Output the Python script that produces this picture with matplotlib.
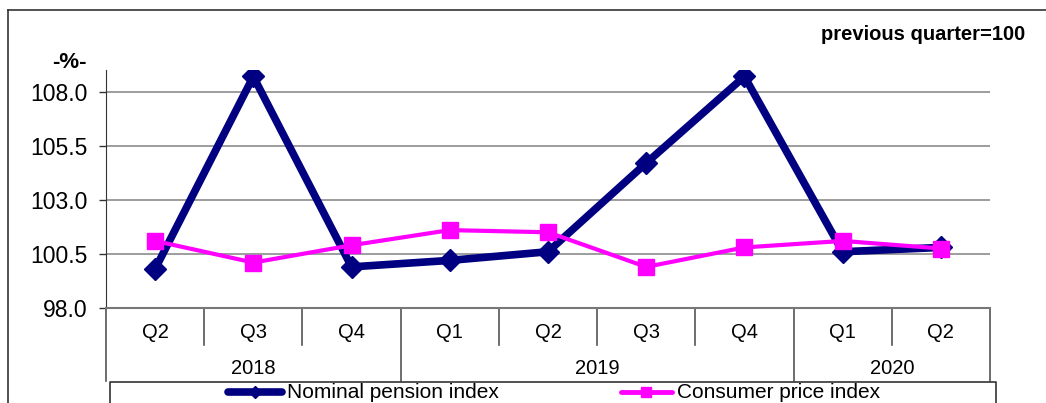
import matplotlib.pyplot as plt
from matplotlib.lines import Line2D
from matplotlib.transforms import blended_transform_factory

plt.rcParams['font.family'] = ['Liberation Sans', 'DejaVu Sans']

quarters = ["Q2", "Q3", "Q4", "Q1", "Q2", "Q3", "Q4", "Q1", "Q2"]
years = ["2018", "2019", "2020"]
year_spans = [(0, 3), (3, 7), (7, 9)]   # [start, end) index of quarters per year

pension = [99.8, 108.7, 99.9, 100.2, 100.6, 104.7, 108.7, 100.6, 100.8]
cpi = [101.1, 100.1, 100.9, 101.6, 101.5, 99.9, 100.8, 101.1, 100.75]
yticks = [98.0, 100.5, 103.0, 105.5, 108.0]

W, H = 1046, 403
navy = "#000080"
magenta = "#FF00FF"


def fx(x):
    return x / W


def fy(y):
    return 1 - y / H


fig = plt.figure(figsize=(W / 100, H / 100), dpi=100)
ax = fig.add_axes([fx(106), fy(308), fx(990) - fx(106), fy(70) - fy(308)])

x = list(range(len(quarters)))
ax.plot(x, pension, color=navy, lw=5.5, marker="D", ms=11, mec=navy, zorder=3)
ax.plot(x, cpi, color=magenta, lw=3, marker="s", ms=12, mec=magenta, zorder=4)

ax.set_xlim(-0.5, len(quarters) - 0.5)
ax.set_ylim(98.0, 109.0)
ax.set_yticks(yticks)
ax.set_yticklabels([f"{v:.1f}" for v in yticks])
ax.tick_params(axis="y", length=5, width=1, color="#333333", pad=8.5,
               labelsize=16.5)
ax.set_xticks([])
ax.grid(axis="y", color="#8c8c8c", lw=1.2)
ax.set_axisbelow(True)
for s in ["top", "right"]:
    ax.spines[s].set_visible(False)
ax.spines["left"].set_color("#333333")
ax.spines["bottom"].set_color("#777777")
ax.spines["bottom"].set_linewidth(1.5)

# multi-level category axis
tr = blended_transform_factory(ax.transData, ax.transAxes)
y_q = -(345 - 308) / 238
y_y = -(381 - 308) / 238
year_edges = {s for s, e in year_spans} | {e for s, e in year_spans}
for i in range(len(quarters) + 1):
    bottom = y_y if i in year_edges else y_q
    ax.add_line(Line2D([i - 0.5, i - 0.5], [0, bottom], transform=tr,
                       color="#555555", lw=1.2, clip_on=False))
for i, q in enumerate(quarters):
    ax.text(i, -(333 - 308) / 238, q, transform=tr, ha="center", va="center",
            fontsize=14.5)
for yr, (s, e) in zip(years, year_spans):
    ax.text((s + e - 1) / 2, -(369 - 308) / 238, yr, transform=tr,
            ha="center", va="center", fontsize=14.5)

# titles
fig.text(fx(87), fy(62), "-%-", ha="right", va="center", fontsize=16,
         fontweight="bold")
fig.text(fx(1025), fy(34), "previous quarter=100", ha="right", va="center",
         fontsize=14.5, fontweight="bold")

# outer frame
fig.add_artist(Line2D([fx(8), fx(8)], [fy(10), 0], color="#333333", lw=1.2))
fig.add_artist(Line2D([fx(8), 1], [fy(10), fy(10)], color="#333333", lw=1.2))

# legend box
fig.add_artist(Line2D([fx(110), fx(110), fx(996), fx(996)],
                      [0, fy(382), fy(382), 0], color="#333333", lw=1.2))
fig.add_artist(Line2D([fx(228), fx(282)], [fy(392), fy(392)], color=navy,
                      lw=5.5, solid_capstyle="round"))
fig.add_artist(Line2D([fx(255)], [fy(392)], color=navy, marker="D", ms=6))
fig.text(fx(287), fy(393), "Nominal pension index", ha="left", va="center",
         fontsize=15)
fig.add_artist(Line2D([fx(621), fx(672)], [fy(392), fy(392)], color=magenta,
                      lw=3.5, solid_capstyle="round"))
fig.add_artist(Line2D([fx(646)], [fy(392)], color=magenta, marker="s", ms=7))
fig.text(fx(677), fy(393), "Consumer price index", ha="left", va="center",
         fontsize=15)

fig.savefig("out.png", dpi=100)
